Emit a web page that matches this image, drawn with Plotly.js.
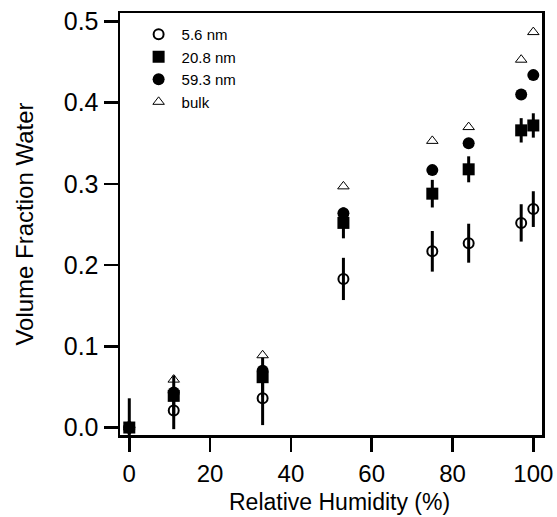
<!DOCTYPE html>
<html>
<head>
<meta charset="utf-8">
<script src="https://cdn.plot.ly/plotly-3.0.1.min.js"></script>
<style>html,body{margin:0;padding:0;background:#fff;}#chart{width:557px;height:517px;}</style>
</head>
<body>
<div id="chart"></div>
<script>
// Relative humidity (%) of each measurement
const rh = [0, 11, 33, 53, 75, 84, 97, 100];

// Volume fraction water
const vf_5_6 = [0, 0.021, 0.036, 0.183, 0.217, 0.227, 0.252, 0.269];
const err_5_6 = [0.036, 0.023, 0.033, 0.026, 0.025, 0.024, 0.023, 0.022];

const vf_20_8 = [0, 0.039, 0.062, 0.252, 0.288, 0.318, 0.366, 0.372];
const err_20_8 = [0.008, 0.025, 0.024, 0.019, 0.017, 0.016, 0.015, 0.015];

const vf_59_3 = [0, 0.043, 0.070, 0.264, 0.317, 0.350, 0.410, 0.434];

const vf_bulk = [0, 0.059, 0.089, 0.297, 0.353, 0.370, 0.453, 0.487];

const names = ["5.6 nm", "20.8 nm", "59.3 nm", "bulk"];
const xTitle = "Relative Humidity (%)";
const yTitle = "Volume Fraction Water";

const errStyle = (arr) => ({type: "data", array: arr, visible: true, color: "#000", thickness: 3, width: 0});

const traces = [
  {x: rh, y: vf_bulk, name: names[3], mode: "markers", type: "scatter", legendrank: 4,
   marker: {symbol: "triangle-up-open", size: 10, color: "#000", line: {width: 1, color: "#000"}}},
  {x: rh, y: vf_59_3, name: names[2], mode: "markers", type: "scatter", legendrank: 3,
   marker: {symbol: "circle", size: 12, color: "#000"}},
  {x: rh, y: vf_5_6, name: names[0], mode: "markers", type: "scatter", legendrank: 1,
   error_y: errStyle(err_5_6),
   marker: {symbol: "circle-open", size: 10, color: "#000", line: {width: 2, color: "#000"}}},
  {x: rh, y: vf_20_8, name: names[1], mode: "markers", type: "scatter", legendrank: 2,
   error_y: errStyle(err_20_8),
   marker: {symbol: "square", size: 12, color: "#000"}}
];

const font = "Liberation Sans, Arial, Helvetica, sans-serif";

const layout = {
  width: 557, height: 517,
  margin: {l: 120, r: 15, t: 13, b: 82},
  paper_bgcolor: "#fff", plot_bgcolor: "#fff",
  font: {family: font, color: "#000", size: 24},
  showlegend: true,
  legend: {x: 0.037, y: 0.988, xanchor: "left", yanchor: "top", bgcolor: "rgba(0,0,0,0)",
           itemwidth: 36,
           font: {family: font, size: 15, color: "#000"}, traceorder: "normal"},
  xaxis: {
    range: [-2.3, 102.15], showgrid: false, zeroline: false,
    showline: true, linecolor: "#000", linewidth: 2.5, mirror: true,
    ticks: "outside", ticklen: 14, tickwidth: 2.5, tickcolor: "#000",
    tickvals: [0, 20, 40, 60, 80, 100], ticklabelstandoff: 2,
    tickfont: {family: font, size: 24, color: "#000"}
  },
  yaxis: {
    range: [-0.0092, 0.5105], showgrid: false, zeroline: false,
    showline: true, linecolor: "#000", linewidth: 2.5, mirror: true,
    ticks: "outside", ticklen: 14, tickwidth: 2.5, tickcolor: "#000",
    tickvals: [0, 0.1, 0.2, 0.3, 0.4, 0.5], tickformat: ".1f",
    tickfont: {family: font, size: 25, color: "#000"},
    title: {text: yTitle, font: {family: font, size: 24, color: "#000"}, standoff: 24}
  },
  annotations: [{
    text: xTitle, xref: "paper", yref: "paper", x: 0.519, y: -0.192,
    xanchor: "center", yanchor: "bottom", showarrow: false, borderpad: 0,
    font: {family: font, size: 23, color: "#000"}
  }]
};

Plotly.newPlot("chart", traces, layout, {displayModeBar: false, staticPlot: true});
</script>
</body>
</html>
